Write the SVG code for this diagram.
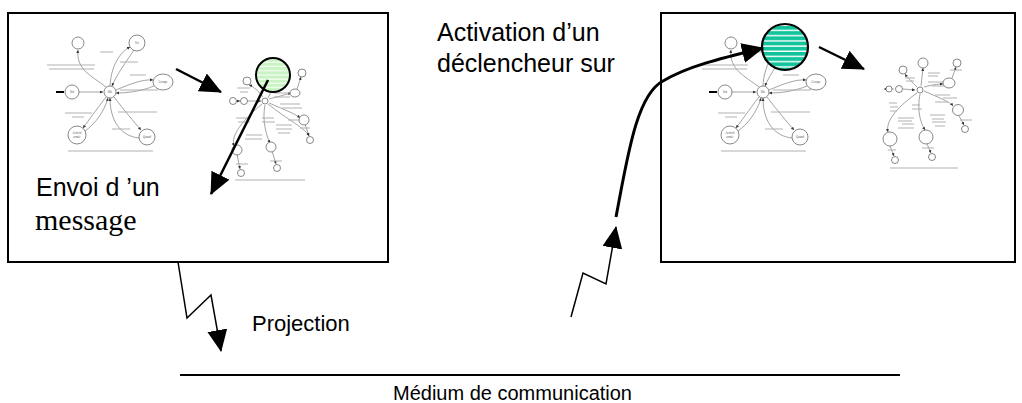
<svg xmlns="http://www.w3.org/2000/svg" xmlns:xlink="http://www.w3.org/1999/xlink" width="1022" height="403" viewBox="0 0 1022 403">
  <style>
    .frame { fill: #ffffff; stroke: #000000; stroke-width: 2; }
    .label { font-family: "Liberation Sans", Arial, sans-serif; fill: #000000; }
    .serif { font-family: "Liberation Serif", "Times New Roman", serif; fill: #000000; }
    .st { fill: #ffffff; stroke: #555555; stroke-width: 0.7; }
    .ed { fill: none; stroke: #666666; stroke-width: 0.6; }
    .tx { fill: none; stroke: #a8a8a8; stroke-width: 0.9; }
    .nm { font-family: "Liberation Serif", serif; font-size: 3px; fill: #555555; text-anchor: middle; }
    .big { fill: none; stroke: #000000; stroke-width: 2.5; }
    .zig { fill: none; stroke: #000000; stroke-width: 1.5; }
  </style>
  <defs>
    <marker id="head" markerUnits="userSpaceOnUse" markerWidth="24" markerHeight="22" refX="21" refY="10" orient="auto">
      <path d="M0,0 L22,10 L0,20 z" fill="#000000"/>
    </marker>
    <marker id="tiny" markerUnits="userSpaceOnUse" markerWidth="4" markerHeight="4" refX="3" refY="1.5" orient="auto">
      <path d="M0,0 L3,1.5 L0,3 z" fill="#333333"/>
    </marker>
    <pattern id="stripeLight" patternUnits="userSpaceOnUse" width="8" height="4.2">
      <rect width="8" height="4.2" fill="#c9f3c3"/>
      <rect y="3" width="8" height="1" fill="#ffffff"/>
    </pattern>
    <pattern id="stripeTeal" patternUnits="userSpaceOnUse" width="8" height="5.2">
      <rect width="8" height="5.2" fill="#12c49c"/>
      <rect y="3.8" width="8" height="1.4" fill="#ffffff"/>
    </pattern>

    <!-- small state machine: Init / Idle and its five neighbours -->
    <g id="fsm">
      <g class="ed" marker-end="url(#tiny)">
        <path d="M79,92 L103,92"/>
        <path d="M106,87 C92,76 76,70 78,50"/>
        <path d="M110,86 C111,66 120,52 130,47"/>
        <path d="M134,50 C126,62 117,74 112,86"/>
        <path d="M116,90 C130,84 143,79 153,80"/>
        <path d="M154,86 C142,91 128,93 116,93"/>
        <path d="M106,97 C96,110 89,120 83,128"/>
        <path d="M85,131 C95,124 104,112 108,98"/>
        <path d="M114,97 C124,110 134,122 141,130"/>
        <path d="M139,138 C120,136 110,120 110,98"/>
      </g>
      <path d="M56,92 L64,92" stroke="#000000" stroke-width="2"/>
      <g class="tx">
        <path d="M47,65 H95 M49,69 H94"/>
        <path d="M100,52 H113"/>
        <path d="M120,62 H138"/>
        <path d="M130,75 H146"/>
        <path d="M120,90 H158"/>
        <path d="M65,113 H92 M72,117 H84"/>
        <path d="M118,112 H157"/>
        <path d="M112,129 H130"/>
        <path d="M68,151 H153"/>
      </g>
      <circle class="st" cx="78" cy="43" r="6"/>
      <circle class="st" cx="137" cy="43" r="8"/>
      <ellipse class="st" cx="163" cy="82" rx="10" ry="8"/>
      <circle class="st" cx="72" cy="92" r="7"/>
      <circle class="st" cx="110" cy="92" r="6"/>
      <circle class="st" cx="77" cy="135" r="9"/>
      <circle class="st" cx="147" cy="137" r="8"/>
      <text class="nm" x="137" y="44">Set</text>
      <text class="nm" x="163" y="83">Groupe</text>
      <text class="nm" x="72" y="93">Init</text>
      <text class="nm" x="110" y="93">Idle</text>
      <text class="nm" x="77" y="134">Activité</text>
      <text class="nm" x="77" y="138">armée</text>
      <text class="nm" x="147" y="138">Quand</text>
    </g>
  </defs>

  <!-- left station -->
  <g id="station-left">
    <rect class="frame" x="8" y="13" width="380" height="249"/>
    <use xlink:href="#fsm"/>

    <!-- expanded state machine -->
    <g id="fsm-detail-left">
      <g class="ed" marker-end="url(#tiny)">
        <path d="M237,101 L240,101"/>
        <path d="M247,101 L261,101"/>
        <path d="M263,97 C258,90 252,86 249,85"/>
        <path d="M268,98 C272,90 274,84 274,80"/>
        <path d="M269,99 C280,96 288,94 291,93"/>
        <path d="M269,103 C285,110 296,114 300,118"/>
        <path d="M268,104 C288,120 305,128 309,136"/>
        <path d="M262,104 C245,118 230,135 234,146"/>
        <path d="M265,105 C262,120 266,135 270,143"/>
        <path d="M237,154 L240,169"/>
        <path d="M272,151 L276,164"/>
        <path d="M297,89 L301,77"/>
        <path d="M305,124 L309,136"/>
      </g>
      <g class="tx">
        <path d="M237,88 H250 M240,92 H248"/>
        <path d="M274,93 H297 M274,97 H290"/>
        <path d="M280,104 H300 M282,108 H302"/>
        <path d="M288,120 H303"/>
        <path d="M236,118 H250 M238,122 H250"/>
        <path d="M262,118 H274 M262,122 H275"/>
        <path d="M276,125 H292 M276,129 H292 M278,133 H290"/>
        <path d="M246,135 H262 M245,139 H262"/>
        <path d="M300,128 H310"/>
        <path d="M236,164 H248 M270,161 H282"/>
        <path d="M235,180 H305"/>
      </g>
      <circle class="st" cx="233" cy="101" r="3.5"/>
      <circle class="st" cx="244" cy="101" r="3.5"/>
      <circle class="st" cx="247" cy="81" r="4"/>
      <circle class="st" cx="265" cy="101" r="3"/>
      <circle class="st" cx="302" cy="73" r="4"/>
      <ellipse class="st" cx="295" cy="93" rx="5" ry="4"/>
      <circle class="st" cx="304" cy="120" r="5"/>
      <circle class="st" cx="310" cy="140" r="3.5"/>
      <circle class="st" cx="237" cy="150" r="5"/>
      <circle class="st" cx="271" cy="147" r="5"/>
      <circle class="st" cx="241" cy="173" r="3.5"/>
      <circle class="st" cx="277" cy="168" r="3.5"/>
    </g>
    <circle id="highlight-left" cx="273" cy="75" r="17" fill="url(#stripeLight)" stroke="#000000" stroke-width="2"/>
  </g>

  <!-- right station -->
  <g id="station-right">
    <rect class="frame" x="661" y="13" width="354" height="249"/>
    <use xlink:href="#fsm" transform="translate(653,0)"/>

    <!-- expanded state machine -->
    <g id="fsm-detail-right">
      <g class="ed" marker-end="url(#tiny)">
        <path d="M894,89 L884,89"/>
        <path d="M903,89 L915,90"/>
        <path d="M917,87 C912,82 907,77 905,74"/>
        <path d="M921,86 L923,68"/>
        <path d="M924,87 C935,84 940,84 943,84"/>
        <path d="M952,78 L956,67"/>
        <path d="M924,91 C940,98 950,102 953,106"/>
        <path d="M959,116 L964,125"/>
        <path d="M917,93 C900,105 885,120 888,132"/>
        <path d="M920,94 C917,110 920,122 925,130"/>
        <path d="M890,146 L894,156"/>
        <path d="M927,144 L931,153"/>
      </g>
      <g class="tx">
        <path d="M905,78 H915 M906,81 H914"/>
        <path d="M928,73 H940 M928,76 H938"/>
        <path d="M950,70 H962"/>
        <path d="M928,82 H946 M932,86 H950"/>
        <path d="M935,95 H950 M943,98 H957 M935,102 H948"/>
        <path d="M960,120 H972"/>
        <path d="M889,103 H897 M890,107 H898 M890,111 H897"/>
        <path d="M898,118 H914 M898,121 H912 M902,124 H914 M898,128 H914"/>
        <path d="M912,105 H920 M912,109 H922"/>
        <path d="M930,115 H945 M932,119 H944 M932,122 H946 M935,126 H945"/>
        <path d="M888,150 H896 M922,148 H934"/>
        <path d="M890,168 H958"/>
      </g>
      <circle class="st" cx="889" cy="89" r="3"/>
      <circle class="st" cx="899" cy="89" r="3.5"/>
      <circle class="st" cx="920" cy="90" r="3"/>
      <circle class="st" cx="903" cy="70" r="4"/>
      <circle class="st" cx="923" cy="63" r="5"/>
      <circle class="st" cx="957" cy="63" r="4"/>
      <ellipse class="st" cx="949" cy="83" rx="6" ry="5"/>
      <circle class="st" cx="958" cy="110" r="5.5"/>
      <circle class="st" cx="965" cy="129" r="3.5"/>
      <circle class="st" cx="890" cy="139" r="7"/>
      <circle class="st" cx="926" cy="137" r="7"/>
      <circle class="st" cx="895" cy="160" r="3.5"/>
      <circle class="st" cx="932" cy="157" r="3.5"/>
    </g>
    <circle id="highlight-right" cx="785" cy="47" r="23" fill="url(#stripeTeal)" stroke="#000000" stroke-width="2.2"/>
  </g>

  <!-- communication medium -->
  <g id="medium">
    <line x1="180" y1="375" x2="900" y2="375" stroke="#000000" stroke-width="2"/>
    <text class="label" x="393" y="400" font-size="20">Médium de communication</text>
  </g>

  <!-- captions -->
  <g id="captions">
    <text class="label" x="36" y="196" font-size="25">Envoi d ’un</text>
    <text class="serif" x="35" y="230" font-size="30">message</text>
    <text class="label" x="437" y="41" font-size="25">Activation d’un</text>
    <text class="label" x="437" y="72" font-size="25">déclencheur sur</text>
    <text class="label" x="252" y="331" font-size="22">Projection</text>
  </g>

  <!-- connectors -->
  <g id="connectors">
    <path class="big" d="M176,69 L221,92" marker-end="url(#head)"/>
    <path class="big" d="M268,80 L211,194" marker-end="url(#head)"/>
    <path class="big" d="M819,47 L864,69" marker-end="url(#head)"/>
    <path class="zig" d="M178,262 L187,318 L211,295 L221,351" marker-end="url(#head)"/>
    <path class="zig" d="M571,317 L583,273 L606,284 L616,227" marker-end="url(#head)"/>
    <path d="M616,217 C627,160 636,95 663,81 C688,66 722,58 763,48" fill="none" stroke="#000000" stroke-width="3" marker-end="url(#head)"/>
  </g>
</svg>
